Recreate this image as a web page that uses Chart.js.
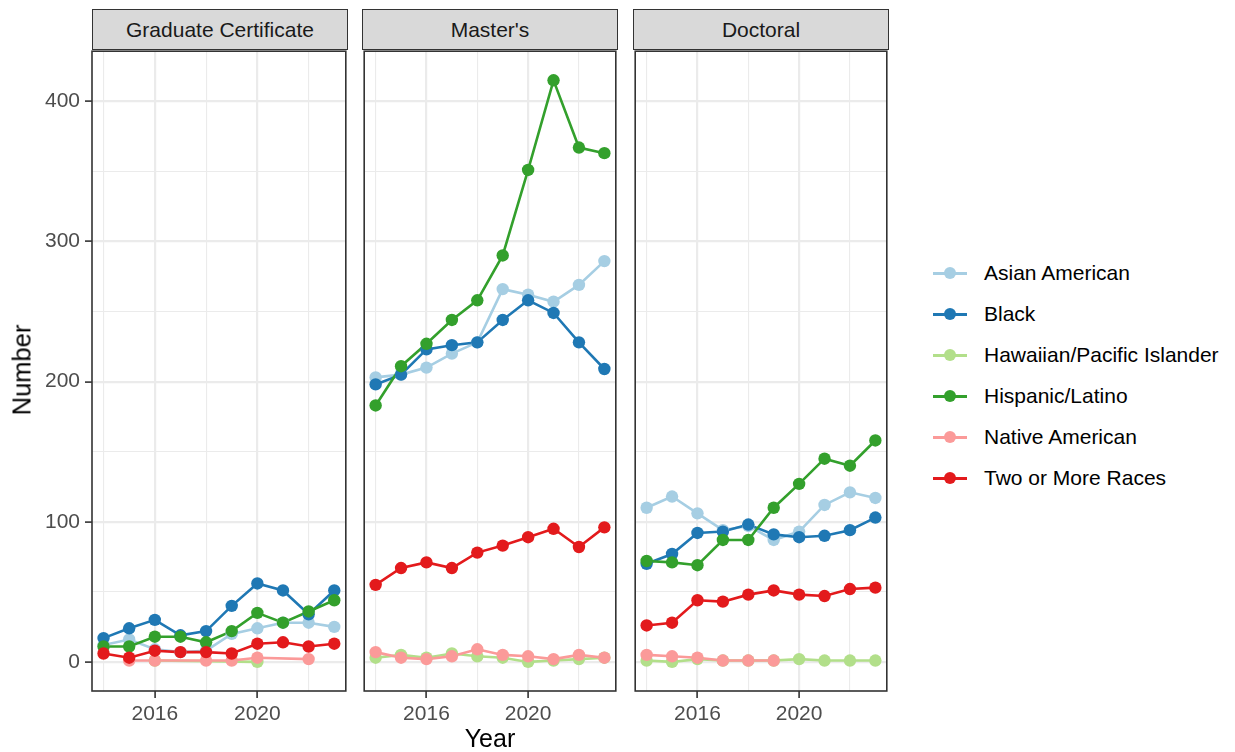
<!DOCTYPE html>
<html>
<head>
<meta charset="utf-8">
<script src="https://cdn.jsdelivr.net/npm/chart.js@4/dist/chart.umd.min.js"></script>
<style>
  body { margin: 0; background: #fff; width: 1235px; height: 752px; position: relative; overflow: hidden;
         font-family: "Liberation Sans", Arial, Helvetica, sans-serif; }
  .strip { position: absolute; top: 9px; height: 41px; box-sizing: border-box; border: 1.5px solid #333;
           background: #D9D9D9; color: #1A1A1A; font-size: 21px; display: flex; align-items: center; justify-content: center; }
  .panel { position: absolute; }
  .ytitle { position: absolute; left: 22px; top: 370px; transform: translate(-50%, -50%) rotate(-90deg);
            font-size: 25.5px; color: #000; white-space: nowrap; }
  .xtitle { position: absolute; left: 490px; top: 738px; transform: translate(-50%, -50%);
            font-size: 25px; color: #000; white-space: nowrap; }
  .legend-row { position: absolute; left: 933px; height: 24px; display: flex; align-items: center; font-size: 21px; color: #000; white-space: nowrap; }
  .key { position: relative; width: 34px; height: 24px; margin-right: 17px; }
  .key .ln { position: absolute; left: 0; right: 0; top: 11px; height: 2.6px; }
  .key .pt { position: absolute; left: 11px; top: 6px; width: 12px; height: 12px; border-radius: 50%; }
</style>
</head>
<body>
<script>
// Enrolment counts by race/ethnicity, 2014-2023, for each degree level.
const years = [2014, 2015, 2016, 2017, 2018, 2019, 2020, 2021, 2022, 2023];
const degreeLevels = ["Graduate Certificate", "Master's", "Doctoral"];
const groups = ["Asian American", "Black", "Hawaiian/Pacific Islander", "Hispanic/Latino", "Native American", "Two or More Races"];
const groupColors = ["#A6CEE3", "#1F78B4", "#B2DF8A", "#33A02C", "#FB9A99", "#E31A1C"];

// Graduate Certificate
const certAsian    = [12, 16, 9, 7, 8, 20, 24, 28, 28, 25];
const certBlack    = [17, 24, 30, 19, 22, 40, 56, 51, 34, 51];
const certHawaiian = [null, null, 1, null, null, null, 0, null, null, null];
const certHispanic = [11, 11, 18, 18, 14, 22, 35, 28, 36, 44];
const certNative   = [null, 1, 1, null, 1, 1, 3, null, 2, null];
const certTwoPlus  = [6, 3, 8, 7, 7, 6, 13, 14, 11, 13];

// Master's
const mastersAsian    = [203, 205, 210, 220, 228, 266, 262, 257, 269, 286];
const mastersBlack    = [198, 205, 223, 226, 228, 244, 258, 249, 228, 209];
const mastersHawaiian = [3, 5, 3, 6, 4, 3, 0, 1, 2, 3];
const mastersHispanic = [183, 211, 227, 244, 258, 290, 351, 415, 367, 363];
const mastersNative   = [7, 3, 2, 4, 9, 5, 4, 2, 5, 3];
const mastersTwoPlus  = [55, 67, 71, 67, 78, 83, 89, 95, 82, 96];

// Doctoral
const doctoralAsian    = [110, 118, 106, 94, 97, 87, 93, 112, 121, 117];
const doctoralBlack    = [70, 77, 92, 93, 98, 91, 89, 90, 94, 103];
const doctoralHawaiian = [1, 0, 2, 1, 1, 1, 2, 1, 1, 1];
const doctoralHispanic = [72, 71, 69, 87, 87, 110, 127, 145, 140, 158];
const doctoralNative   = [5, 4, 3, 1, 1, 1, null, null, null, null];
const doctoralTwoPlus  = [26, 28, 44, 43, 48, 51, 48, 47, 52, 53];

// Axis breaks
const xBreaks = [2014, 2016, 2018, 2020, 2022];
const xLabels = [2016, 2020];
const yBreaks = [0, 50, 100, 150, 200, 250, 300, 350, 400];
const yLabels = [0, 100, 200, 300, 400];

const panelSeries = [
  [certAsian, certBlack, certHawaiian, certHispanic, certNative, certTwoPlus],
  [mastersAsian, mastersBlack, mastersHawaiian, mastersHispanic, mastersNative, mastersTwoPlus],
  [doctoralAsian, doctoralBlack, doctoralHawaiian, doctoralHispanic, doctoralNative, doctoralTwoPlus]
];

// Panel geometry
const panelLefts = [92, 362, 633];
const panelWidth = 256;
const panelTop = 49;
const panelHeight = 642;
const yAxisWidth = 70;
const xAxisHeight = 50;
const pad = 4;

const FONT = '"Liberation Sans", Arial, Helvetica, sans-serif';

const panelFrame = {
  id: 'panelFrame',
  afterDraw(chart) {
    const { ctx, chartArea: a } = chart;
    ctx.save();
    ctx.strokeStyle = '#333333';
    ctx.lineWidth = 1.6;
    ctx.strokeRect(a.left, a.top, a.right - a.left, a.bottom - a.top);
    ctx.restore();
  }
};

// keep the plot area fixed: no extra room reserved for overhanging labels
function noOverhang(s) {
  s.paddingTop = 0; s.paddingBottom = 0; s.paddingLeft = 0; s.paddingRight = 0;
}

function buildDatasets(series) {
  const sets = [];
  series.forEach((vals, i) => {
    const pts = years.map((yr, k) => ({ x: yr, y: vals[k] }));
    // connecting line
    sets.push({
      label: groups[i], data: pts, showLine: true, spanGaps: true,
      borderColor: groupColors[i], borderWidth: 2.6, pointRadius: 0, pointHoverRadius: 0,
      order: 100 - i
    });
    // markers, above every line
    sets.push({
      label: groups[i], data: pts, showLine: false,
      pointBackgroundColor: groupColors[i], pointBorderWidth: 0, pointRadius: 6.2, pointHoverRadius: 6.2,
      order: 10 - i
    });
  });
  return sets;
}

degreeLevels.forEach((name, p) => {
  const first = p === 0;
  const left = first ? panelLefts[p] - yAxisWidth : panelLefts[p] - pad;
  const width = (first ? yAxisWidth : pad) + panelWidth + pad;
  const height = pad + panelHeight + xAxisHeight;

  const strip = document.createElement('div');
  strip.className = 'strip';
  strip.style.left = panelLefts[p] + 'px';
  strip.style.width = panelWidth + 'px';
  strip.textContent = name;
  document.body.appendChild(strip);

  const wrap = document.createElement('div');
  wrap.className = 'panel';
  wrap.style.left = left + 'px';
  wrap.style.top = (panelTop - pad) + 'px';
  wrap.style.width = width + 'px';
  wrap.style.height = height + 'px';
  const canvas = document.createElement('canvas');
  canvas.width = width; canvas.height = height;
  wrap.appendChild(canvas);
  document.body.appendChild(wrap);

  new Chart(canvas, {
    type: 'scatter',
    data: { datasets: buildDatasets(panelSeries[p]) },
    options: {
      responsive: false, animation: false, devicePixelRatio: 1,
      layout: { padding: { left: first ? 0 : pad, right: pad, top: pad, bottom: 0 } },
      plugins: { legend: { display: false }, tooltip: { enabled: false } },
      scales: {
        x: {
          type: 'linear', min: 2013.55, max: 2023.45,
          afterBuildTicks: s => { s.ticks = xBreaks.map(v => ({ value: v })); },
          afterFit: s => { s.height = xAxisHeight; noOverhang(s); },
          border: { display: false },
          grid: {
            color: '#EBEBEB',
            lineWidth: c => xLabels.includes(c.tick.value) ? 2.2 : 1.1,
            tickColor: c => xLabels.includes(c.tick.value) ? '#333333' : 'rgba(0,0,0,0)',
            tickLength: 7, tickWidth: 1.6
          },
          ticks: {
            autoSkip: false, maxRotation: 0, padding: 4, color: '#4D4D4D',
            font: { family: FONT, size: 21 },
            callback: v => xLabels.includes(v) ? String(v) : ''
          }
        },
        y: {
          type: 'linear', min: -20.75, max: 435.75,
          afterBuildTicks: s => { s.ticks = yBreaks.map(v => ({ value: v })); },
          afterFit: s => { s.width = first ? yAxisWidth : 0; noOverhang(s); },
          border: { display: false },
          grid: {
            color: '#EBEBEB',
            lineWidth: c => yLabels.includes(c.tick.value) ? 2.2 : 1.1,
            tickColor: c => yLabels.includes(c.tick.value) ? '#333333' : 'rgba(0,0,0,0)',
            drawTicks: first, tickLength: 7, tickWidth: 1.6
          },
          ticks: {
            display: first, padding: 5, color: '#4D4D4D',
            font: { family: FONT, size: 21 },
            callback: v => yLabels.includes(v) ? String(v) : ''
          }
        }
      }
    },
    plugins: [panelFrame]
  });
});

// axis titles
const yt = document.createElement('div'); yt.className = 'ytitle'; yt.textContent = 'Number'; document.body.appendChild(yt);
const xt = document.createElement('div'); xt.className = 'xtitle'; xt.textContent = 'Year'; document.body.appendChild(xt);

// legend
const legendTop = 273, legendStep = 41;
groups.forEach((g, i) => {
  const row = document.createElement('div');
  row.className = 'legend-row';
  row.style.top = (legendTop + i * legendStep - 12) + 'px';
  row.innerHTML = '<div class="key"><div class="ln" style="background:' + groupColors[i] + '"></div>' +
    '<div class="pt" style="background:' + groupColors[i] + '"></div></div><span>' + g + '</span>';
  document.body.appendChild(row);
});
</script>
</body>
</html>
